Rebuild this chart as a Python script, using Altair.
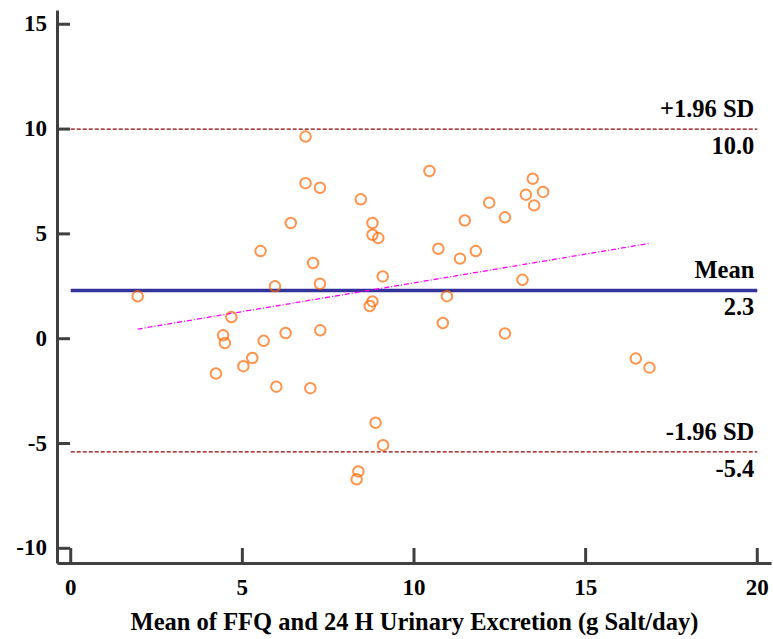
import altair as alt
import pandas as pd

# Bland-Altman data: mean of the two methods (x) and their difference (y)
mean_salt = [
    1.95, 6.84, 6.84, 7.26, 8.45, 6.41, 8.79, 8.79, 8.96, 5.53,
    7.06, 5.95, 7.26, 9.09, 8.79, 8.71, 4.68, 4.44, 4.49, 5.62,
    6.26, 7.27, 5.29, 5.03, 4.23, 5.99, 6.98, 8.88, 9.10, 8.38,
    8.33, 10.45, 13.46, 13.76, 13.26, 13.50, 12.19, 12.65, 11.48, 10.71,
    11.80, 11.34, 13.16, 10.96, 10.84, 12.65, 16.46, 16.86,
]
diff_salt = [
    2.02, 9.64, 7.42, 7.20, 6.65, 5.52, 5.52, 4.96, 4.80, 4.18,
    3.61, 2.50, 2.62, 2.97, 1.78, 1.56, 1.03, 0.16, -0.21, -0.10,
    0.27, 0.40, -0.92, -1.31, -1.66, -2.29, -2.36, -4.01, -5.08, -6.33,
    -6.71, 8.00, 7.63, 7.00, 6.87, 6.36, 6.49, 5.79, 5.64, 4.29,
    4.18, 3.82, 2.81, 2.03, 0.75, 0.25, -0.95, -1.38,
]

# Limits of agreement and the mean difference
limit_names = ["+1.96 SD", "Mean", "-1.96 SD"]
limit_values = [10.0, 2.3, -5.4]
limit_kind = ["sd", "mean", "sd"]
line_start = 0
line_end = 20

x_ticks = [0, 5, 10, 15, 20]
x_tick_labels = ["0", "5", "10", "15", "20"]
y_ticks = [-10, -5, 0, 5, 10, 15]
y_tick_labels = ["-10", "-5", "0", "5", "10", "15"]

W, H = 714, 553
FONT = "Liberation Serif"
AXIS_GREY = "#404040"
X_TITLE = "Mean of FFQ and 24 H Urinary Excretion (g Salt/day)"

x_scale = alt.Scale(domain=[-0.4, 20.4], nice=False, zero=False)
y_scale = alt.Scale(domain=[-10.7, 15.68], nice=False, zero=False)

points = pd.DataFrame({"avg": mean_salt, "diff": diff_salt})
limits = pd.DataFrame({
    "name": limit_names,
    "value": limit_values,
    "value_text": [f"{v:.1f}" for v in limit_values],
    "kind": limit_kind,
    "x0": [line_start] * len(limit_values),
    "x1": [line_end] * len(limit_values),
})
x_tick_df = pd.DataFrame({"t": x_ticks, "label": x_tick_labels})
y_tick_df = pd.DataFrame({"t": y_ticks, "label": y_tick_labels})

x_axis = alt.Axis(values=x_ticks, labels=False, title=X_TITLE, titlePadding=47)
y_axis = alt.Axis(values=y_ticks, labels=False, title=None)


def xenc(field):
    return alt.X(field, type="quantitative", scale=x_scale, axis=x_axis, title=X_TITLE)


def yenc(field):
    return alt.Y(field, type="quantitative", scale=y_scale, axis=y_axis, title=None)


scatter = alt.Chart(points).mark_point(
    shape="circle", filled=False, color="#FF6600", size=110, strokeWidth=2
).encode(x=xenc("avg"), y=yenc("diff"))

# Inward-pointing tick marks and their labels
x_tick_marks = alt.Chart(x_tick_df).mark_rule(
    color=AXIS_GREY, strokeWidth=3
).encode(x=xenc("t"), y=alt.value(H), y2=alt.value(H - 15))
y_tick_marks = alt.Chart(y_tick_df).mark_rule(
    color=AXIS_GREY, strokeWidth=3
).encode(y=yenc("t"), x=alt.value(0), x2=alt.value(13))

tick_text = dict(font=FONT, fontSize=23, fontWeight="bold", color="black",
                 baseline="middle")
x_tick_text = alt.Chart(x_tick_df).mark_text(align="center", **tick_text).encode(
    x=xenc("t"), y=alt.value(H + 25), text="label:N"
)
y_tick_text = alt.Chart(y_tick_df).mark_text(align="right", **tick_text).encode(
    y=yenc("t"), x=alt.value(-10), text="label:N"
)

sd_lines = alt.Chart(limits).transform_filter(alt.datum.kind == "sd").mark_rule(
    color="#8B0000", strokeWidth=1.2, strokeDash=[4, 2]
).encode(y=yenc("value"), x=xenc("x0"), x2="x1:Q")
mean_line = alt.Chart(limits).transform_filter(alt.datum.kind == "mean").mark_rule(
    color="#333399", strokeWidth=3.5
).encode(y=yenc("value"), x=xenc("x0"), x2="x1:Q")

trend = alt.Chart(points).transform_regression("avg", "diff").mark_line(
    color="#FF00FF", strokeWidth=1.3, strokeDash=[5, 2, 1, 2]
).encode(x=xenc("avg"), y=yenc("diff"))

label_style = dict(align="right", baseline="middle", font=FONT,
                   fontSize=24.5, fontWeight="bold", color="black", dx=-3)
names_above = alt.Chart(limits).mark_text(dy=-19, **label_style).encode(
    y=yenc("value"), x=xenc("x1"), text="name:N",
)
values_below = alt.Chart(limits).mark_text(dy=18, **label_style).encode(
    y=yenc("value"), x=xenc("x1"), text="value_text:N",
)

chart = alt.layer(
    sd_lines, mean_line, trend, scatter,
    x_tick_marks, y_tick_marks, x_tick_text, y_tick_text,
    names_above, values_below,
).properties(
    width=W, height=H,
    autosize=alt.AutoSizeParams(type="none"),
    padding={"left": 57, "top": 10, "right": 2, "bottom": 76},
    background="white",
).configure_view(
    stroke=None
).configure_axis(
    grid=False, ticks=False, tickSize=0,
    domainColor=AXIS_GREY, domainWidth=3,
    titleFont=FONT, titleFontSize=24.5, titleFontWeight="bold", titleColor="black",
)

chart.save("out.html", embed_options={"renderer": "svg", "actions": False})
